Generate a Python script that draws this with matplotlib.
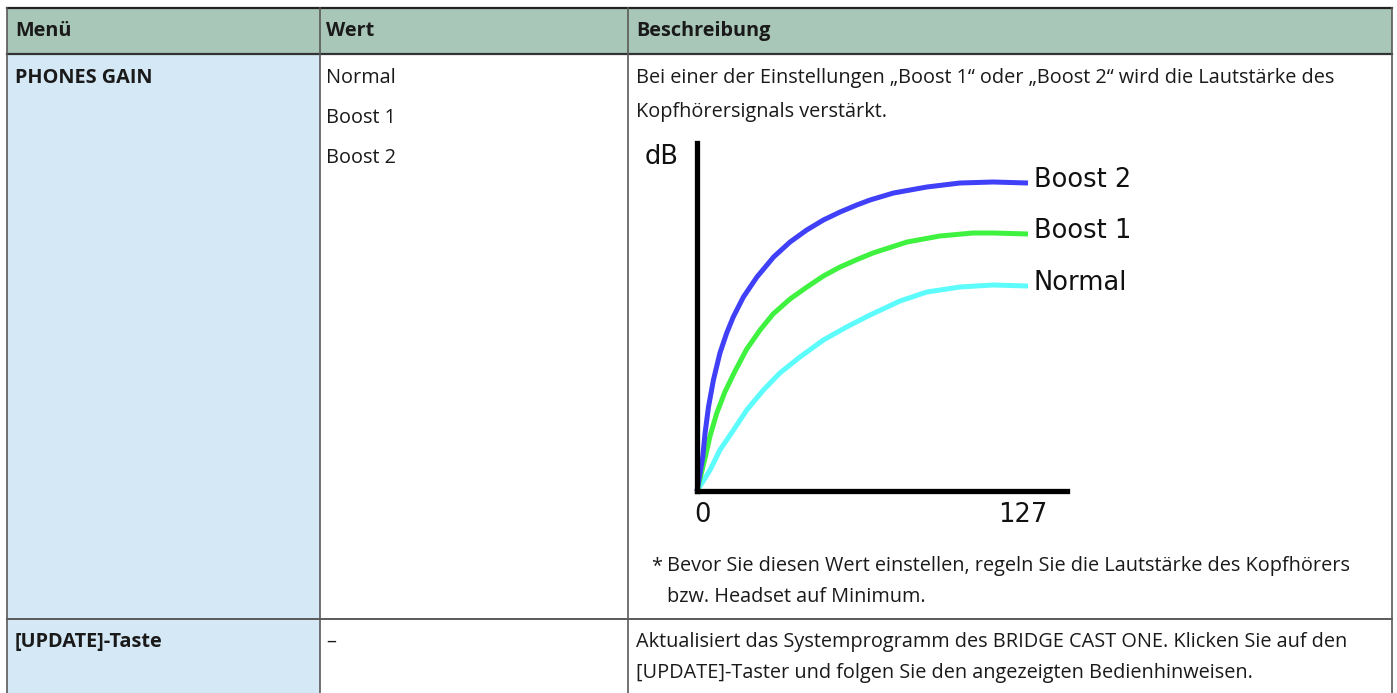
import numpy as np
import matplotlib.pyplot as plt
from matplotlib.patches import Rectangle

# table text
headers = ['Menü', 'Wert', 'Beschreibung']
menu_items = ['PHONES GAIN', '[UPDATE]-Taste']
gain_values = ['Normal', 'Boost 1', 'Boost 2']
desc_gain = ['Bei einer der Einstellungen \u201eBoost 1\u201c oder \u201eBoost 2\u201c wird die Lautstärke des',
             'Kopfhörersignals verstärkt.']
note_gain = ['Bevor Sie diesen Wert einstellen, regeln Sie die Lautstärke des Kopfhörers',
             'bzw. Headset auf Minimum.']
desc_update = ['Aktualisiert das Systemprogramm des BRIDGE CAST ONE. Klicken Sie auf den',
               '[UPDATE]-Taster und folgen Sie den angezeigten Bedienhinweisen.']

# curve data (x: 0..127, y: level in px-like units)
x_b2 = [0, 2.2, 3.1, 4.4, 6.3, 8.8, 11.4, 13.9, 17.8, 23.0, 29.4, 35.7, 42.1, 48.5,
        54.9, 61.3, 66.4, 75.4, 88.2, 100.9, 113.6, 127]
boost2 = [0, 34, 58, 84, 111, 138, 158, 174, 194, 214, 234, 249, 261, 271,
          279, 286, 291, 298, 304, 308, 309, 308]
x_b1 = [0, 3.1, 5.0, 7.6, 10.7, 14.6, 19.1, 24.2, 29.2, 35.7, 42.2, 48.5, 54.9,
        61.0, 67.5, 80.6, 93.2, 105.9, 113.6, 127]
boost1 = [0, 33, 55, 78, 99, 120, 142, 161, 177, 192, 204, 215, 224,
          231, 238, 249, 255, 258, 258, 257]
x_nm = [0, 5.0, 8.8, 14.0, 19.1, 25.5, 31.8, 39.5, 48.5, 57.4, 66.4, 77.9, 88.2,
        100.9, 113.6, 127]
normal = [0, 21, 41, 61, 81, 101, 118, 134, 151, 164, 176, 190, 199,
          204, 206, 205]

W, H = 1397, 693
fig = plt.figure(figsize=(W / 100, H / 100), dpi=100)
ax = fig.add_axes([0, 0, 1, 1])
ax.set_xlim(0, W)
ax.set_ylim(H, 0)
ax.axis('off')

tfont = 'Open Sans'
fs = 14.3
tc = '#1a1a1a'
head_c = '#a8c7b9'
menu_c = '#d5e8f5'
line_c = '#5a5a5a'

# column edges and rows
cx = [7, 320, 628, 1392]
ry = [8, 54, 619, 700]

ax.add_patch(Rectangle((cx[0], ry[0]), cx[3] - cx[0], ry[1] - ry[0], fc=head_c, ec='none'))
ax.add_patch(Rectangle((cx[0], ry[1]), cx[1] - cx[0], ry[3] - ry[1], fc=menu_c, ec='none'))

ax.plot([cx[0], cx[3]], [ry[0], ry[0]], color='#222222', lw=1.6)
ax.plot([cx[0], cx[3]], [ry[1], ry[1]], color='#333333', lw=1.6)
ax.plot([cx[0], cx[3]], [ry[2], ry[2]], color=line_c, lw=1.4)
for x in cx:
    ax.plot([x, x], [ry[0], H], color=line_c, lw=1.2)

for x, h in zip([15, 326, 636], headers):
    ax.text(x, 31, h, fontsize=fs, fontweight='bold', family=tfont, va='center', color=tc)

ax.text(15, 78, menu_items[0], fontsize=fs, fontweight='bold', family=tfont, va='center', color=tc)
ax.text(15, 642, menu_items[1], fontsize=fs, fontweight='bold', family=tfont, va='center', color=tc)
for i, v in enumerate(gain_values):
    ax.text(326, 78 + 40 * i, v, fontsize=fs, family=tfont, va='center', color=tc)
ax.text(326, 642, '\u2013', fontsize=fs, family=tfont, va='center', color=tc)

for i, t in enumerate(desc_gain):
    ax.text(636, 78 + 34 * i, t, fontsize=fs, family=tfont, va='center', color=tc)
ax.text(651, 566, '*', fontsize=fs, family=tfont, va='center', color=tc)
for i, t in enumerate(note_gain):
    ax.text(667, 566 + 31 * i, t, fontsize=fs, family=tfont, va='center', color=tc)
for i, t in enumerate(desc_update):
    ax.text(636, 642 + 31 * i, t, fontsize=fs, family=tfont, va='center', color=tc)

# the little chart
l, r, top, bot = 697, 1067, 143, 491
cax = fig.add_axes([l / W, 1 - bot / H, (r - l) / W, (bot - top) / H])
cax.set_xlim(0, 127 * (r - l) / 331)
cax.set_ylim(0, bot - top)
cax.patch.set_alpha(0)
for s in ['top', 'right']:
    cax.spines[s].set_visible(False)
for s in ['left', 'bottom']:
    cax.spines[s].set_linewidth(3.8)
    cax.spines[s].set_color('black')
    cax.spines[s].set_zorder(5)
cax.set_xticks([])
cax.set_yticks([])

cax.plot(x_nm, normal, color='#5cfcfc', lw=3.6, solid_capstyle='butt', clip_on=False)
cax.plot(x_b1, boost1, color='#3ff23f', lw=3.6, solid_capstyle='butt', clip_on=False)
cax.plot(x_b2, boost2, color='#4040f8', lw=3.6, solid_capstyle='butt', clip_on=False)

cfs = 18.5
cc = '#111111'
ax.text(662, 157, 'dB', fontsize=cfs, ha='center', va='center', color=cc)
ax.text(1034, 180, 'Boost 2', fontsize=cfs, va='center', color=cc)
ax.text(1034, 231, 'Boost 1', fontsize=cfs, va='center', color=cc)
ax.text(1034, 283, 'Normal', fontsize=cfs, va='center', color=cc)
ax.text(702, 515, '0', fontsize=cfs, ha='center', va='center', color=cc)
ax.text(1023, 515, '127', fontsize=cfs, ha='center', va='center', color=cc)

fig.savefig('out.png', dpi=100)
